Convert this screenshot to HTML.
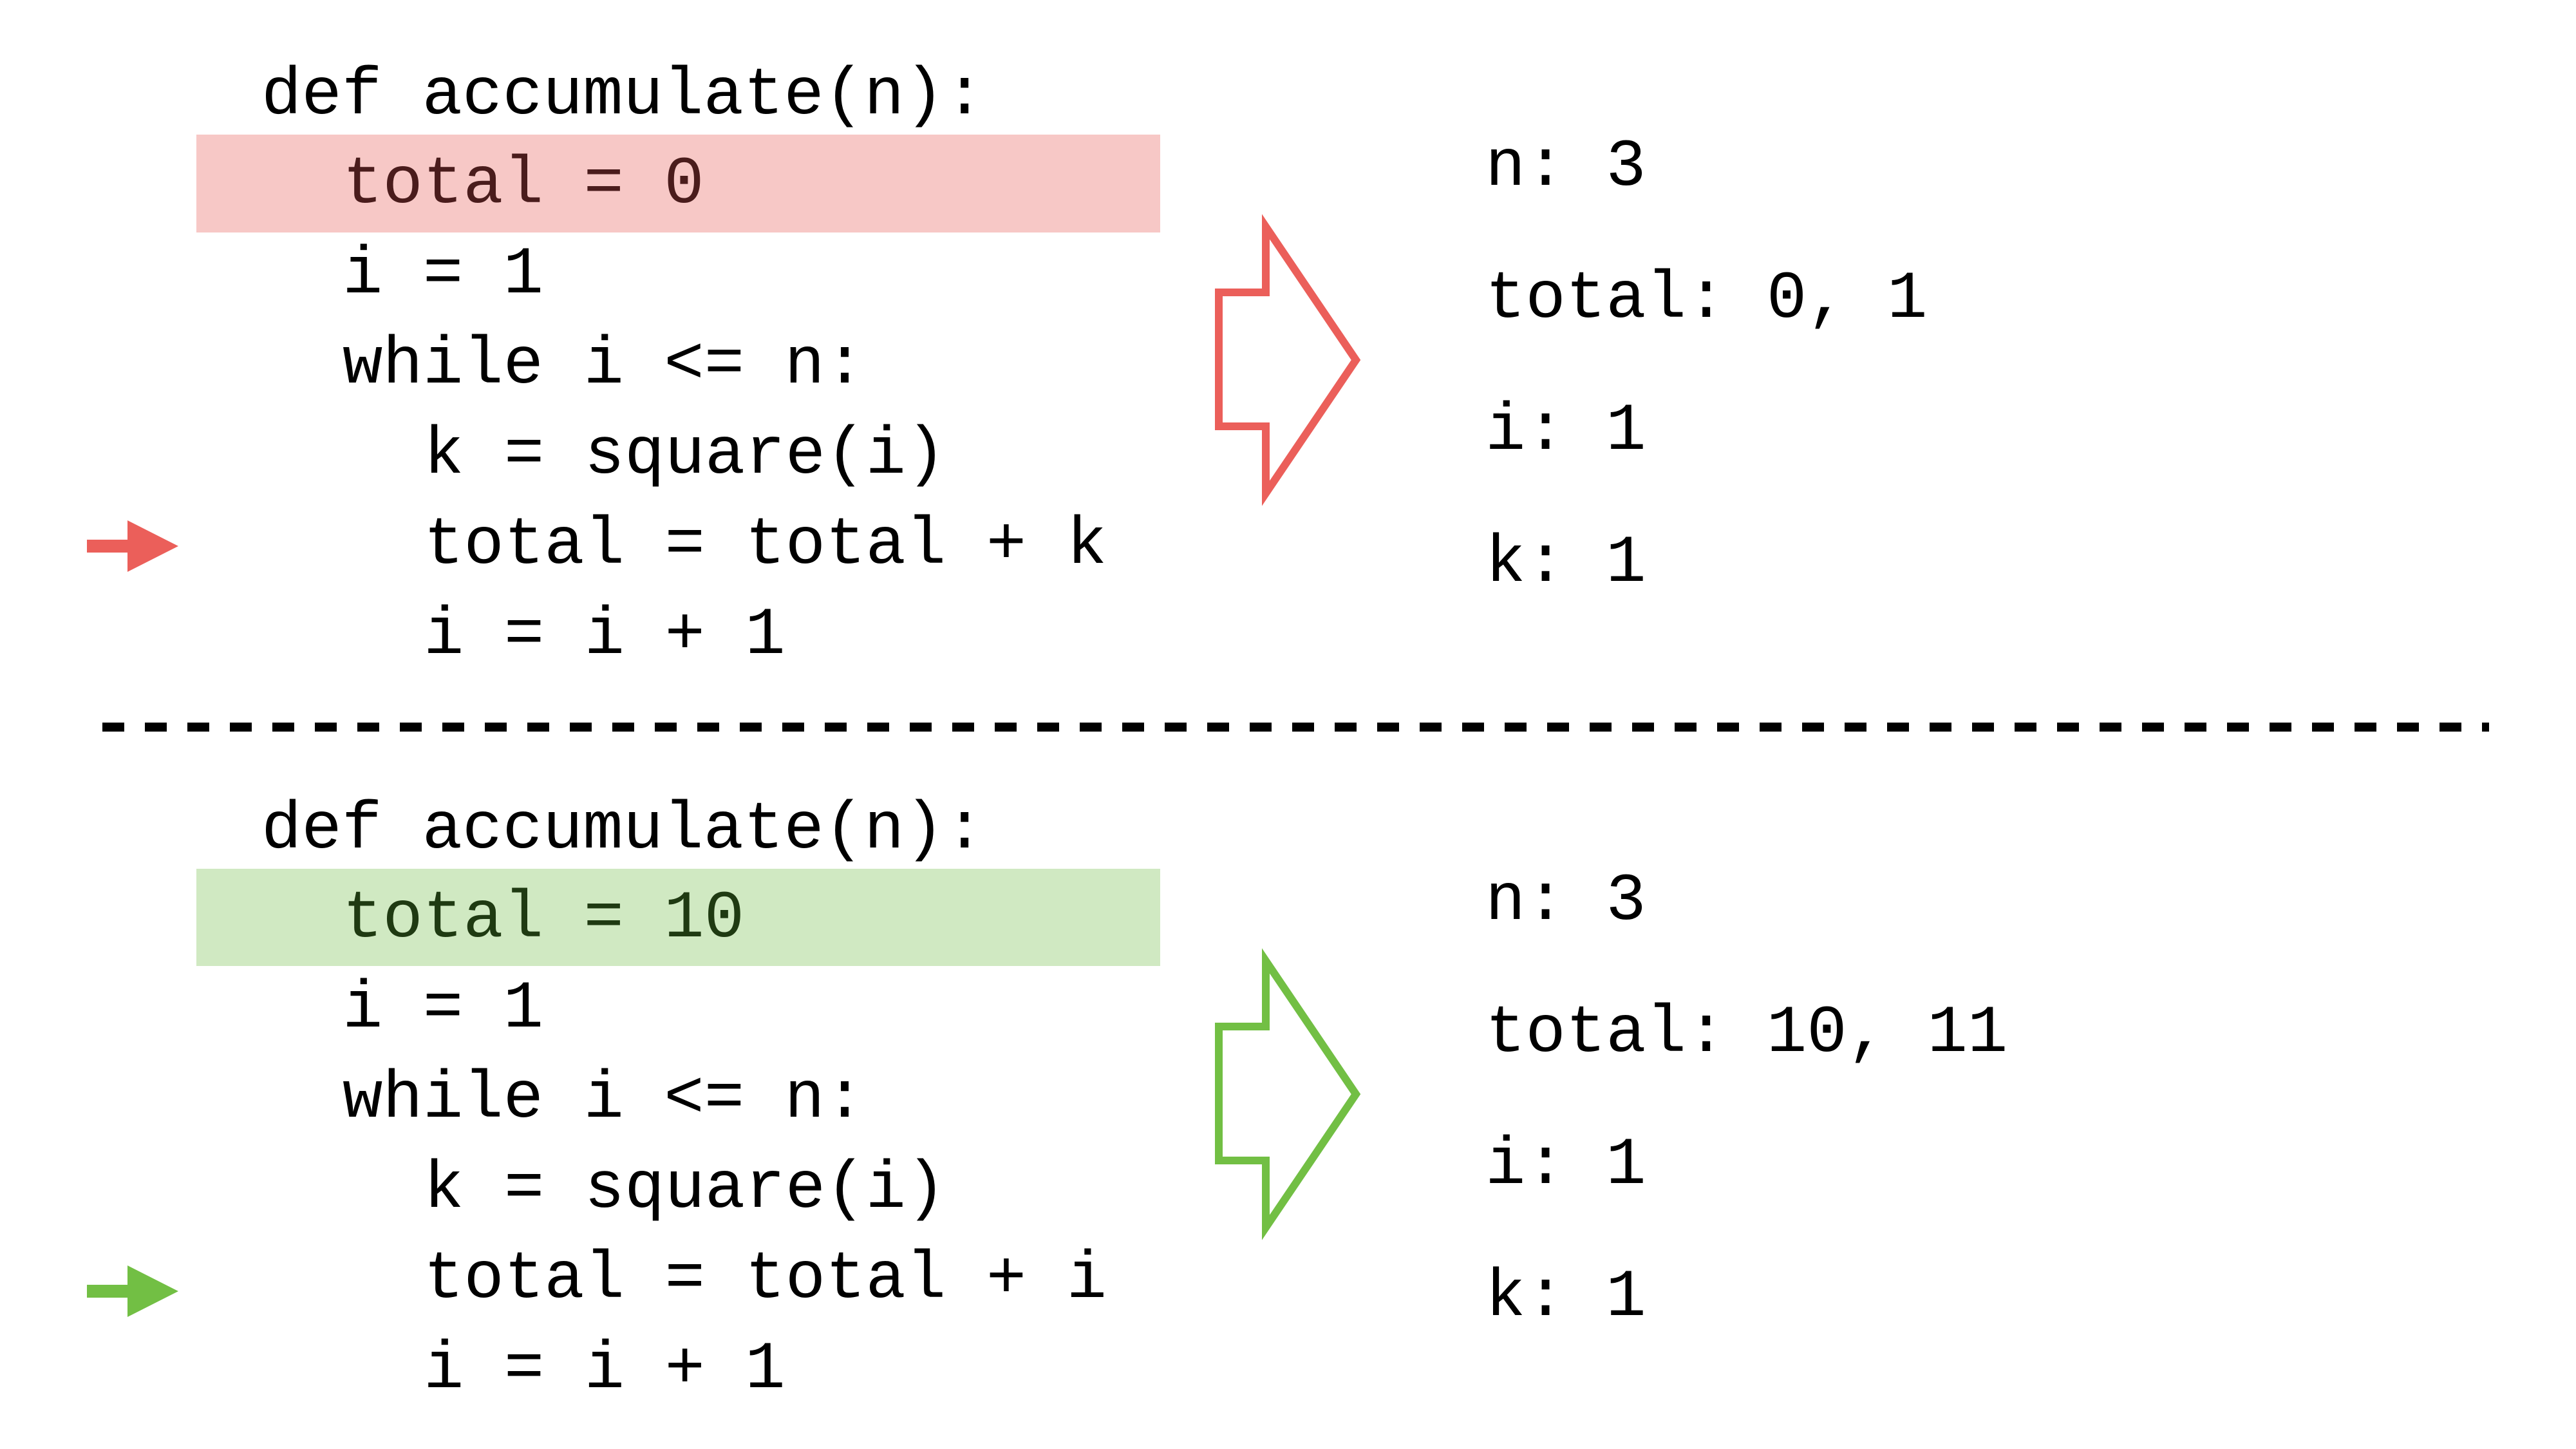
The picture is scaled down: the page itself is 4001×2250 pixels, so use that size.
<!DOCTYPE html>
<html><head><meta charset="utf-8"><style>
html,body{margin:0;padding:0;background:#fff;}
svg{display:block;}
text{font-family:"Liberation Mono","DejaVu Sans Mono",monospace;font-size:104px;fill:#000;white-space:pre;}
</style></head><body>
<svg width="4001" height="2250" viewBox="0 0 4001 2250" xmlns="http://www.w3.org/2000/svg">
<rect x="0" y="0" width="4001" height="2250" fill="#fff"/>
<!-- top -->
<rect x="305" y="209" width="1497" height="152" fill="#f7c8c6"/>
<text x="406" y="176">def accumulate(n):</text>
<text x="532" y="314" style="fill:#4a1c1c">total = 0</text>
<text x="532" y="454">i = 1</text>
<text x="532" y="594">while i &lt;= n:</text>
<text x="658" y="734">k = square(i)</text>
<text x="658" y="874">total = total + k</text>
<text x="658" y="1014">i = i + 1</text>
<polygon points="135,838 198,838 198,808 277,848 198,888 198,858 135,858" fill="#eb5f5a"/>
<polygon points="1902,454 1975,454 1975,352 2115,559 1975,766 1975,662 1902,662" fill="none" stroke="#eb5f5a" stroke-width="12" transform="translate(-9,0)"/>
<text x="2307" y="287">n: 3</text>
<text x="2307" y="492">total: 0, 1</text>
<text x="2307" y="697">i: 1</text>
<text x="2307" y="902">k: 1</text>
<!-- dashed -->
<line x1="159" y1="1129" x2="3866" y2="1129" stroke="#000" stroke-width="14" stroke-dasharray="34 32"/>
<!-- bottom -->
<rect x="305" y="1349" width="1497" height="151" fill="#d0e9c2"/>
<text x="406" y="1316">def accumulate(n):</text>
<text x="532" y="1454" style="fill:#1f3a12">total = 10</text>
<text x="532" y="1594">i = 1</text>
<text x="532" y="1734">while i &lt;= n:</text>
<text x="658" y="1874">k = square(i)</text>
<text x="658" y="2014">total = total + i</text>
<text x="658" y="2154">i = i + 1</text>
<polygon points="135,1995 198,1995 198,1965 277,2005 198,2045 198,2015 135,2015" fill="#72bf44"/>
<polygon points="1902,1594 1975,1594 1975,1492 2115,1699 1975,1906 1975,1802 1902,1802" fill="none" stroke="#72bf44" stroke-width="12" transform="translate(-9,0)"/>
<text x="2307" y="1427">n: 3</text>
<text x="2307" y="1632">total: 10, 11</text>
<text x="2307" y="1837">i: 1</text>
<text x="2307" y="2042">k: 1</text>
</svg>
</body></html>
